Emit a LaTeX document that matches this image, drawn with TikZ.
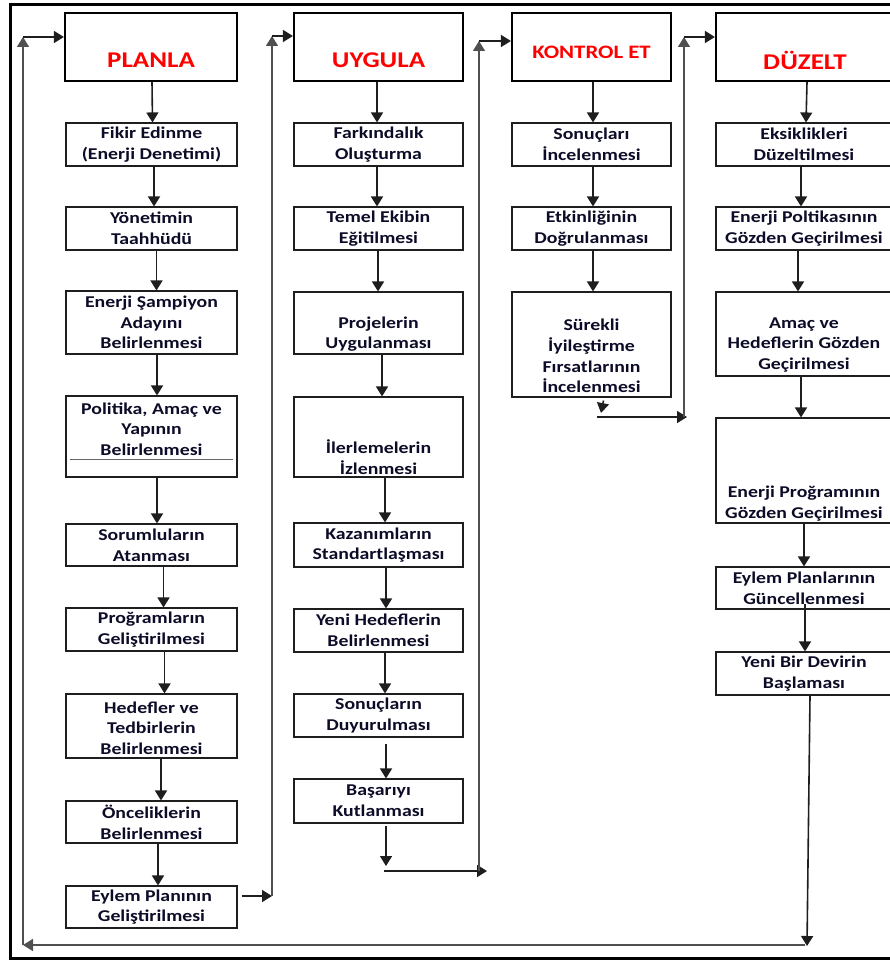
\documentclass[tikz,border=0pt]{standalone}
\usepackage{fontspec}
\setmainfont{Carlito}[FakeStretch=1.2]
\usetikzlibrary{arrows.meta,calc}
\definecolor{txtc}{RGB}{12,12,40}
\definecolor{hred}{RGB}{255,0,0}
\definecolor{lnc}{RGB}{30,30,30}
\definecolor{fbc}{RGB}{80,80,80}
\tikzset{
 cbox/.style={draw=lnc, line width=1.1pt, rectangle, inner sep=0pt},
 hbox/.style={draw=black, line width=2.2pt, rectangle, inner sep=0pt},
 ctext/.style={text=txtc, align=center, font=\fontsize{16.5}{20.7}\selectfont\bfseries, inner sep=0pt},
 htext/.style={text=hred, font=\fontsize{22.5}{26}\selectfont\bfseries, inner sep=0pt},
 htextsm/.style={text=hred, font=\fontsize{19}{22}\selectfont\bfseries, inner sep=0pt},
 arr/.style={draw=lnc, line width=1.6pt, -{Triangle[width=12pt,length=10pt]}},
 fb/.style={draw=fbc, line width=1.5pt},
 fbarr/.style={fb, -{Triangle[width=12pt,length=10pt]}},
 harr/.style={draw=lnc, line width=1.6pt, -{Triangle[width=12pt,length=10pt]}},
}
\newcommand\pdbox[9]{%
 \node[#1, minimum width={(#6-#4)*1pt}, minimum height={(#7-#5)*1pt}] (#3) at ({(#4+#6)/2},{(#5+#7)/2}) {};
 \node[#2] (#3t) at ($(#3.center)+(0,#8)$) {#9};
}
\newcommand\va[3]{\draw[arr] ([xshift=#3pt]#1.south) -- ([xshift=#3pt]#2.north);}
\begin{document}
\begin{tikzpicture}[x=1pt,y=-1pt]
\useasboundingbox (0,0) rectangle (889,960);
% outer frame
\draw[line width=3pt] (10,4.5) rectangle (905,958);

% headers
\pdbox{hbox}{htext}{H1}{65}{13}{237}{81}{13}{PLANLA}
\pdbox{hbox}{htext}{H2}{294}{13}{463}{81}{13}{UYGULA}
\pdbox{hbox}{htextsm}{H3}{512}{13}{671}{81}{5}{KONTROL ET}
\pdbox{hbox}{htext}{H4}{716}{13}{894}{81}{13}{DÜZELT}

% PLANLA column
\pdbox{cbox}{ctext}{L1}{66}{123}{237}{166}{0}{Fikir Edinme\\(Enerji Denetimi)}
\pdbox{cbox}{ctext}{L2}{66}{207}{237}{250}{0}{Yönetimin\\Taahhüdü}
\pdbox{cbox}{ctext}{L3}{66}{291}{237}{354}{0}{Enerji Şampiyon\\Adayını\\Belirlenmesi}
\pdbox{cbox}{ctext}{L4}{66}{396}{237}{477}{-7.5}{Politika, Amaç ve\\Yapının\\Belirlenmesi}
\draw[line width=1pt, draw=black!60] (70,459) -- (233,459);
\pdbox{cbox}{ctext}{L5}{66}{524}{237}{566}{0}{Sorumluların\\Atanması}
\pdbox{cbox}{ctext}{L6}{66}{608}{237}{651}{0}{Proğramların\\Geliştirilmesi}
\pdbox{cbox}{ctext}{L7}{66}{694}{237}{758}{2}{Hedefler ve\\Tedbirlerin\\Belirlenmesi}
\pdbox{cbox}{ctext}{L8}{66}{801}{237}{843}{0}{Önceliklerin\\Belirlenmesi}
\pdbox{cbox}{ctext}{L9}{66}{886}{237}{928}{0}{Eylem Planının\\Geliştirilmesi}

% UYGULA column
\pdbox{cbox}{ctext}{U1}{294}{123}{463}{166}{0}{Farkındalık\\Oluşturma}
\pdbox{cbox}{ctext}{U2}{294}{207}{463}{250}{0}{Temel Ekibin\\Eğitilmesi}
\pdbox{cbox}{ctext}{U3}{294}{292}{463}{354}{11}{Projelerin\\Uygulanması}
\pdbox{cbox}{ctext}{U4}{294}{397}{463}{477}{20}{İlerlemelerin\\İzlenmesi}
\pdbox{cbox}{ctext}{U5}{294}{523}{463}{567}{0}{Kazanımların\\Standartlaşması}
\pdbox{cbox}{ctext}{U6}{294}{609}{463}{652}{0}{Yeni Hedeflerin\\Belirlenmesi}
\pdbox{cbox}{ctext}{U7}{294}{694}{463}{737}{0}{Sonuçların\\Duyurulması}
\pdbox{cbox}{ctext}{U8}{294}{779}{463}{823}{0}{Başarıyı\\Kutlanması}

% KONTROL ET column
\pdbox{cbox}{ctext}{K1}{512}{123}{671}{166}{0}{Sonuçları\\İncelenmesi}
\pdbox{cbox}{ctext}{K2}{512}{207}{671}{250}{0}{Etkinliğinin\\Doğrulanması}
\pdbox{cbox}{ctext}{K3}{512}{292}{671}{397}{11.5}{Sürekli\\İyileştirme\\Fırsatlarının\\İncelenmesi}

% DÜZELT column
\pdbox{cbox}{ctext}{D1}{716}{123}{892}{166}{0}{Eksiklikleri\\Düzeltilmesi}
\pdbox{cbox}{ctext}{D2}{716}{207}{892}{250}{0}{Enerji Poltikasının\\Gözden Geçirilmesi}
\pdbox{cbox}{ctext}{D3}{716}{292}{892}{376}{11}{Amaç ve\\Hedeflerin Gözden\\Geçirilmesi}
\pdbox{cbox}{ctext}{D4}{716}{418}{892}{523}{33}{Enerji Proğramının\\Gözden Geçirilmesi}
\pdbox{cbox}{ctext}{D5}{716}{567}{892}{609}{0}{Eylem Planlarının\\Güncellenmesi}
\pdbox{cbox}{ctext}{D6}{716}{652}{892}{695}{0}{Yeni Bir Devirin\\Başlaması}

% vertical arrows, PLANLA
\va{H1}{L1}{1}
\va{L1}{L2}{2.5}
\va{L2}{L3}{5}
\va{L3}{L4}{5.5}
\va{L4}{L5}{5.5}
\va{L5}{L6}{12}
\va{L6}{L7}{13}
\va{L7}{L8}{9.5}
\va{L8}{L9}{6.5}
% UYGULA
\va{H2}{U1}{-1.5}
\va{U1}{U2}{-1.5}
\va{U2}{U3}{-0.5}
\va{U3}{U4}{3.5}
\va{U4}{U5}{6.5}
\va{U5}{U6}{7.5}
\va{U6}{U7}{6.5}
\draw[arr] ([xshift=7.5pt,yshift=-6pt]U7.south) -- ([xshift=7.5pt]U8.north);
% KONTROL ET
\va{H3}{K1}{1.5}
\va{K1}{K2}{1.5}
\va{K2}{K3}{1.5}
% DÜZELT
\va{H4}{D1}{2}
\va{D1}{D2}{-3}
\va{D2}{D3}{-6}
\va{D3}{D4}{-3}
\va{D4}{D5}{0}
\draw[arr] ([xshift=1pt,yshift=6pt]D5.south) -- ([xshift=1pt]D6.north);

% PLANLA -> UYGULA
\coordinate (e1) at (272,896);
\coordinate (e2) at (272,36);
\draw[harr] ($(L9.east|-e1)+(4,0)$) -- (e1);
\draw[fbarr] (e1) -- (e2);
\draw[harr] (e2) -- (e2 -| H2.west);

% UYGULA -> KONTROL ET
\coordinate (ub) at (386,866);
\coordinate (u1) at (384,871);
\coordinate (u2) at (487,871);
\coordinate (u3) at (479,871);
\coordinate (u4) at (479,41);
\draw[arr] ([xshift=7.5pt,yshift=-2pt]U8.south) -- (ub);
\draw[harr] (u1) -- (u2);
\draw[fbarr] (u3) -- (u4);
\draw[harr] (u4) -- (u4 -| H3.west);

% KONTROL ET -> DÜZELT
\coordinate (kb) at (601,413);
\coordinate (k1) at (597,417);
\coordinate (k2) at (687,417);
\coordinate (k3) at (684,417);
\coordinate (k4) at (684,37);
\draw[arr] ([xshift=12pt,yshift=-3pt]K3.south) -- (kb);
\draw[harr] (k1) -- (k2);
\draw[fbarr] (k3) -- (k4);
\draw[harr] (k4) -- (k4 -| H4.west);

% DÜZELT -> PLANLA (new cycle)
\coordinate (db) at (807,946);
\coordinate (br) at (805,945);
\coordinate (bl) at (23,945);
\coordinate (tl) at (23,37);
\draw[arr] ([xshift=6pt]D6.south) -- (db);
\draw[fbarr] (br) -- (bl);
\draw[fbarr] (bl) -- (tl);
\draw[harr] (tl) -- (tl -| H1.west);
\end{tikzpicture}
\end{document}
